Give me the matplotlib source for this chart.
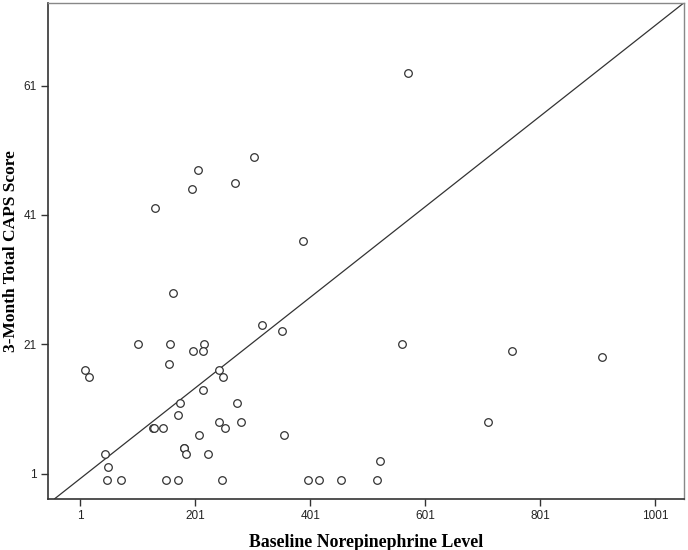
import matplotlib
matplotlib.use("Agg")
import matplotlib.pyplot as plt

# Data
norepinephrine = [132, 195, 206, 271, 304, 389, 571,
                  163, 317, 352, 101, 158, 217, 197, 214, 156, 9, 16, 242, 249,
                  214, 175, 274, 172, 128, 129, 145, 242, 253, 281, 207, 356,
                  181, 182, 185, 45, 224, 49, 47, 72, 151, 171, 248, 398, 417, 455,
                  561, 752, 909, 710, 523, 518]
caps_score = [42, 45, 48, 46, 50, 37, 63,
              29, 24, 23, 21, 21, 21, 20, 20, 18, 17, 16, 17, 16,
              14, 12, 12, 10, 8, 8, 8, 9, 8, 9, 7, 7,
              5, 5, 4, 4, 4, 2, 0, 0, 0, 0, 0, 0, 0, 0,
              21, 20, 19, 9, 3, 0]

x_ticks = [1, 201, 401, 601, 801, 1001]
y_ticks = [1, 21, 41, 61]
x_limits = (-54.7, 1051)
y_limits = (-2.86, 73.8)
ref_line_x = [-43, 1051]
ref_line_y = [-2.86, 73.8]

x_label = "Baseline Norepinephrine Level"
y_label = "3-Month Total CAPS Score"

fig = plt.figure(figsize=(6.88, 5.5), dpi=100)
ax = fig.add_axes([0.0698, 0.0933, 0.9244, 0.9017])

ax.plot(ref_line_x, ref_line_y, color="#333333", linewidth=0.9)
ax.scatter(norepinephrine, caps_score, s=30, facecolors="white",
           edgecolors="#333333", linewidths=0.9, zorder=3)

ax.set_xlim(*x_limits)
ax.set_ylim(*y_limits)
ax.set_xticks(x_ticks)
ax.set_yticks(y_ticks)
ax.set_xticklabels([str(t) for t in x_ticks], fontfamily="Liberation Sans", fontsize=8.5, color="#222222")
ax.set_yticklabels([str(t) for t in y_ticks], fontfamily="Liberation Sans", fontsize=8.5, color="#222222")
ax.tick_params(direction="out", length=5, width=1, color="#333333", pad=3)

for side in ["left", "bottom"]:
    ax.spines[side].set_color("#333333")
    ax.spines[side].set_linewidth(1.2)
for side in ["top", "right"]:
    ax.spines[side].set_color("#888888")
    ax.spines[side].set_linewidth(1.0)

ax.set_xlabel(x_label, fontfamily="Liberation Serif", fontweight="bold", fontsize=12.8, labelpad=9)
ax.set_ylabel(y_label, fontfamily="Liberation Serif", fontweight="bold", fontsize=12.5)
ax.yaxis.set_label_coords(-0.046, 0.5)

fig.savefig("out.png", dpi=100)
